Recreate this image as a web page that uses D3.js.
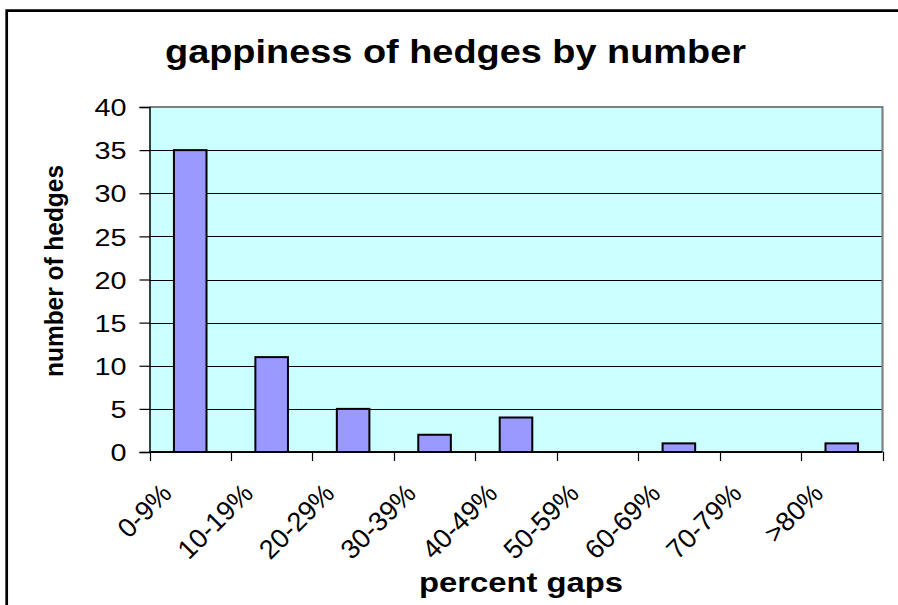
<!DOCTYPE html>
<html>
<head>
<meta charset="utf-8">
<script src="https://cdn.jsdelivr.net/npm/d3@7"></script>
<style>
  html, body { margin: 0; padding: 0; background: #ffffff; }
  svg { display: block; }
  text { font-family: "Liberation Sans", Arial, sans-serif; fill: #000; }
</style>
</head>
<body>
<svg id="chart" width="898" height="605"></svg>
<script>
// Histogram of hedge gappiness
const categories = ["0-9%", "10-19%", "20-29%", "30-39%", "40-49%", "50-59%", "60-69%", "70-79%", ">80%"];
const hedgeCounts = [35, 11, 5, 2, 4, 0, 1, 0, 1];
const yTicks = [0, 5, 10, 15, 20, 25, 30, 35, 40];

const titleText = "gappiness of hedges by number";
const xTitleText = "percent gaps";
const yTitleText = "number of hedges";

const svg = d3.select("#chart");

const plot = { left: 149.5, right: 882.5, top: 107, bottom: 452 };

const x = d3.scaleBand().domain(categories).range([plot.left, plot.right]).padding(0);
const y = d3.scaleLinear().domain([0, 40]).range([plot.bottom, plot.top]);

// outer chart frame (runs past the right and bottom edges)
svg.append("path")
  .attr("d", `M6.7,${605 + 5} V10.7 H${898 + 5}`)
  .attr("fill", "none")
  .attr("stroke", "#000")
  .attr("stroke-width", 2.7);

// plot background
svg.append("rect")
  .attr("x", plot.left).attr("y", plot.top)
  .attr("width", plot.right - plot.left).attr("height", plot.bottom - plot.top)
  .attr("fill", "#ccffff");

// horizontal gridlines
svg.append("g")
  .selectAll("line")
  .data(yTicks.filter(v => v > 0 && v < 40))
  .join("line")
  .attr("x1", plot.left).attr("x2", plot.right)
  .attr("y1", d => Math.round(y(d)) + 0.5).attr("y2", d => Math.round(y(d)) + 0.5)
  .attr("stroke", "#000").attr("stroke-width", 1.2);

// plot frame: grey top and right edges
svg.append("path")
  .attr("d", `M${plot.left},${plot.top} H${plot.right} V${plot.bottom}`)
  .attr("fill", "none")
  .attr("stroke", "#808080")
  .attr("stroke-width", 2.2);

// bars
const bw = x.bandwidth();
svg.append("g")
  .selectAll("rect")
  .data(categories.map((c, i) => ({ c, v: hedgeCounts[i] })).filter(d => d.v > 0))
  .join("rect")
  .attr("x", d => x(d.c) + bw * 0.3)
  .attr("width", bw * 0.4)
  .attr("y", d => y(d.v))
  .attr("height", d => y(0) - y(d.v))
  .attr("fill", "#9999ff")
  .attr("stroke", "#000")
  .attr("stroke-width", 2);

// y axis
const labelStretch = 1.2;
const yAxis = d3.axisLeft(y)
  .tickValues(yTicks)
  .tickSize(10)
  .tickPadding(13)
  .tickFormat(d3.format("d"));
const yg = svg.append("g")
  .attr("transform", `translate(${plot.left},0)`)
  .call(yAxis);
yg.select(".domain").attr("stroke", "#000").attr("stroke-width", 1.5);
yg.selectAll(".tick line").attr("stroke", "#000").attr("stroke-width", 1.2);
yg.selectAll(".tick text")
  .attr("font-family", "'Liberation Sans', Arial, sans-serif")
  .attr("font-size", 24)
  .attr("x", -23 / labelStretch)
  .attr("transform", `scale(${labelStretch},1)`)
  .attr("dy", "0.36em")
  .attr("fill", "#000");

// x axis: ticks at category boundaries
const boundaries = categories.map(c => x(c)).concat([plot.right]);
svg.append("line")
  .attr("x1", plot.left).attr("x2", plot.right)
  .attr("y1", plot.bottom).attr("y2", plot.bottom)
  .attr("stroke", "#000").attr("stroke-width", 1.8);
svg.append("g")
  .selectAll("line")
  .data(boundaries)
  .join("line")
  .attr("x1", d => Math.round(d) + 0.5).attr("x2", d => Math.round(d) + 0.5)
  .attr("y1", plot.bottom).attr("y2", plot.bottom + 9)
  .attr("stroke", "#000").attr("stroke-width", 1.2);

// rotated category labels
svg.append("g")
  .selectAll("text")
  .data(categories)
  .join("text")
  .attr("transform", d => `translate(${x(d) + bw / 2 - 17},${495}) rotate(-45)`)
  .attr("text-anchor", "end")
  .attr("font-size", 27)
  .text(d => d);

// titles
svg.append("text")
  .attr("x", 165).attr("y", 63)
  .attr("font-size", 33).attr("font-weight", "bold")
  .attr("textLength", 581).attr("lengthAdjust", "spacingAndGlyphs")
  .text(titleText);

svg.append("text")
  .attr("x", 419).attr("y", 592)
  .attr("font-size", 28).attr("font-weight", "bold")
  .attr("textLength", 204).attr("lengthAdjust", "spacingAndGlyphs")
  .text(xTitleText);

svg.append("text")
  .attr("transform", `translate(63,377) rotate(-90)`)
  .attr("font-size", 25).attr("font-weight", "bold")
  .attr("textLength", 212).attr("lengthAdjust", "spacingAndGlyphs")
  .text(yTitleText);
</script>
</body>
</html>
